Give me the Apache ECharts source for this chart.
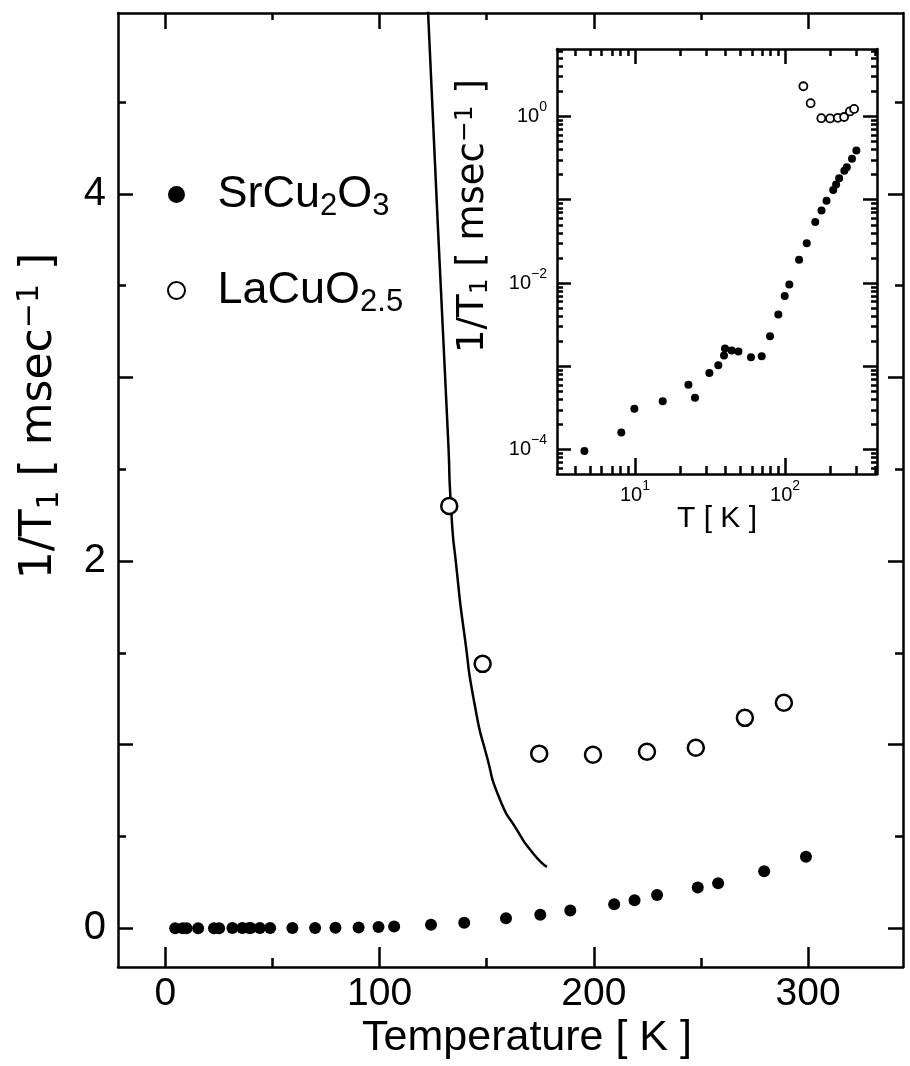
<!DOCTYPE html>
<html><head><meta charset="utf-8">
<script src="https://cdn.jsdelivr.net/npm/echarts@6/dist/echarts.min.js"></script>
<style>html,body{margin:0;padding:0;background:#fff}#c{width:910px;height:1066px}</style>
</head><body><div id="c"></div>
<script>
// ---- data ----
const srT = [4.6, 8.1, 9.9, 15.3, 22.7, 25.1, 31.3, 35.9, 39.2, 39.8, 44.1, 48.9, 59.3, 69.9, 79.4, 90.2, 99.5, 106.8,
             124, 139.5, 159, 175, 189, 209.5, 219, 229.5, 248.5, 258, 279.5, 299];
const srV = [9.6e-5, 1.6e-4, 3.1e-4, 3.8e-4, 6.0e-4, 4.2e-4, 8.3e-4, 1.03e-3, 1.35e-3, 1.63e-3, 1.55e-3, 1.5e-3, 1.28e-3, 1.32e-3, 2.3e-3, 4.2e-3, 7.0e-3, 9.6e-3,
             0.019, 0.03, 0.054, 0.074, 0.097, 0.131, 0.152, 0.181, 0.222, 0.245, 0.31, 0.39];
const laT = [132.5, 148.1, 174.5, 199.6, 224.8, 247.6, 270.5, 288.7];
const laV = [2.30, 1.44, 0.951, 0.945, 0.961, 0.983, 1.146, 1.228];
const fitT = [122.0, 127.3, 132.0, 133.3, 136.1, 139.8, 144.5, 150.1, 156.2, 164.1, 171.5, 178.1];
const fitV = [5.15, 3.80, 2.66, 2.30, 1.94, 1.58, 1.21, 0.934, 0.70, 0.536, 0.41, 0.334];

// ---- ticks ----
const mainXMajor = [0, 100, 200, 300];
const mainXMinor = [50, 150, 250];
const mainYMajor = [0, 1, 2, 3, 4];
const mainYLabels = [0, 2, 4];
const mainYMinor = [0.5, 1.5, 2.5, 3.5, 4.5];
const insetXMajor = [10, 100];
const insetXMinor = [4, 5, 6, 7, 8, 9, 20, 30, 40, 50, 60, 70, 80, 90, 200, 300, 400];
const insetYMajor = [1e-4, 1e-3, 1e-2, 1e-1, 1];
const insetYLabels = [1e-4, 1e-2, 1];
const insetYMinor = [6e-5, 7e-5, 8e-5, 9e-5, 2e-4, 3e-4, 4e-4, 5e-4, 6e-4, 7e-4, 8e-4, 9e-4,
                     2e-3, 3e-3, 4e-3, 5e-3, 6e-3, 7e-3, 8e-3, 9e-3, 2e-2, 3e-2, 4e-2, 5e-2, 6e-2, 7e-2, 8e-2, 9e-2,
                     0.2, 0.3, 0.4, 0.5, 0.6, 0.7, 0.8, 0.9, 2, 3, 4, 5, 6];

const FF = '"Liberation Sans", Arial, Helvetica, sans-serif';
const FW = '"DejaVu Sans", "Liberation Sans", sans-serif';
const LW = 2.5;
const lg = Math.log10;

function axis(gridIndex, position, min, max, ticks, tickLen, showLine, label) {
  return {
    type: 'value', gridIndex, position, min, max,
    axisLine: { show: showLine, onZero: false, lineStyle: { color: '#000', width: LW } },
    axisTick: { show: true, inside: true, length: tickLen, customValues: ticks, lineStyle: { color: '#000', width: LW } },
    axisLabel: label ? Object.assign({ show: true, color: '#000', fontFamily: FF }, label) : { show: false },
    splitLine: { show: false }, minorTick: { show: false }
  };
}

const XMIN = -22.1, XMAX = 344.3, YMIN = -0.211, YMAX = 4.985;
const IXMIN = 0.48, IXMAX = 2.613, IYMIN = -4.293, IYMAX = 0.809;

const expFmt = v => { const e = Math.round(v); return '10{p|' + (e < 0 ? '\u2212' + (-e) : e) + '}'; };
const insetLabelRich = {
  p: { fontSize: 14, fontFamily: FF, color: '#000', lineHeight: 22, padding: [0, 0, 18, 0] }
};

const xAxes = [
  axis(0, 'bottom', XMIN, XMAX, mainXMajor, 20, true,
       { customValues: mainXMajor, fontSize: 39, margin: 8 }),
  axis(0, 'bottom', XMIN, XMAX, mainXMinor, 9, false, null),
  axis(0, 'top', XMIN, XMAX, mainXMajor, 16, true, null),
  axis(0, 'top', XMIN, XMAX, mainXMinor, 7, false, null),
  axis(1, 'bottom', IXMIN, IXMAX, insetXMajor.map(lg), 16, true,
       { customValues: insetXMajor.map(lg), fontSize: 20, lineHeight: 22, margin: 10, formatter: expFmt, rich: insetLabelRich }),
  axis(1, 'bottom', IXMIN, IXMAX, insetXMinor.map(lg), 8, false, null),
  axis(1, 'top', IXMIN, IXMAX, insetXMajor.map(lg), 15, true, null),
  axis(1, 'top', IXMIN, IXMAX, insetXMinor.map(lg), 7, false, null)
];
const yAxes = [
  axis(0, 'left', YMIN, YMAX, mainYMajor, 15, true,
       { customValues: mainYLabels, fontSize: 40, margin: 12 }),
  axis(0, 'left', YMIN, YMAX, mainYMinor, 8, false, null),
  axis(0, 'right', YMIN, YMAX, mainYMajor, 15, true, null),
  axis(0, 'right', YMIN, YMAX, mainYMinor, 8, false, null),
  axis(1, 'left', IYMIN, IYMAX, insetYMajor.map(lg), 14, true,
       { customValues: insetYLabels.map(lg), fontSize: 20, lineHeight: 22, margin: 10, formatter: expFmt, rich: insetLabelRich }),
  axis(1, 'left', IYMIN, IYMAX, insetYMinor.map(lg), 6, false, null),
  axis(1, 'right', IYMIN, IYMAX, insetYMajor.map(lg), 14, true, null),
  axis(1, 'right', IYMIN, IYMAX, insetYMinor.map(lg), 6, false, null)
];

const zip = (a, b) => a.map((x, i) => [x, b[i]]);
const zipLog = (a, b) => a.map((x, i) => [lg(x), lg(b[i])]);

const openStyle = (bw) => ({ color: '#fff', borderColor: '#000', borderWidth: bw, opacity: 1 });
const fillStyle = { color: '#000', opacity: 1 };

const option = {
  animation: false,
  backgroundColor: '#fff',
  grid: [
    { left: 118, top: 13, width: 785, height: 954, outerBoundsMode: 'none', containLabel: false },
    { left: 557, top: 49, width: 320, height: 425, outerBoundsMode: 'none', containLabel: false,
      show: true, backgroundColor: '#fff', borderWidth: 0 }
  ],
  xAxis: xAxes,
  yAxis: yAxes,
  legend: {
    orient: 'vertical', left: 162, top: 162, itemWidth: 72, itemHeight: 17, itemGap: 41,
    data: ['SrCu2O3', 'LaCuO2.5'],
    formatter: n => n === 'SrCu2O3' ? 'SrCu{s|2}O{s|3}' : 'LaCuO{s|2.5}',
    textStyle: {
      fontSize: 45, fontFamily: FF, color: '#000', lineHeight: 50,
      rich: { s: { fontSize: 31, fontFamily: FF, color: '#000', lineHeight: 50, padding: [24, 0, 0, 0] } }
    },
    selectedMode: false
  },
  series: [
    { name: 'SrCu2O3', type: 'scatter', xAxisIndex: 0, yAxisIndex: 0, symbol: 'circle', symbolSize: 12,
      itemStyle: fillStyle, data: zip(srT, srV), z: 3 },
    { name: 'LaCuO2.5', type: 'scatter', xAxisIndex: 0, yAxisIndex: 0, symbol: 'circle', symbolSize: 16,
      itemStyle: openStyle(2.5), data: zip(laT, laV), z: 3 },
    { name: 'fit', type: 'line', xAxisIndex: 0, yAxisIndex: 0, showSymbol: false, smooth: 0.7,
      lineStyle: { color: '#000', width: 2.5 }, data: zip(fitT, fitV), clip: true, z: 2 },
    { name: 'SrCu2O3', type: 'scatter', xAxisIndex: 4, yAxisIndex: 4, symbol: 'circle', symbolSize: 8,
      itemStyle: fillStyle, data: zipLog(srT, srV), z: 3 },
    { name: 'LaCuO2.5', type: 'scatter', xAxisIndex: 4, yAxisIndex: 4, symbol: 'circle', symbolSize: 8,
      itemStyle: openStyle(1.8), data: zipLog(laT, laV), z: 3 }
  ],
  graphic: [
    { type: 'text', x: 40, y: 416, rotation: Math.PI / 2,
      style: { text: '1/T{b|1} [ msec{p|\u22121} ]', fontSize: 44, fontFamily: FW, fill: '#000',
        align: 'center', verticalAlign: 'middle', lineHeight: 50,
        rich: { b: { fontSize: 30, fontFamily: FW, fill: '#000', lineHeight: 50, padding: [20, 0, 0, 0] },
                p: { fontSize: 30, fontFamily: FW, fill: '#000', lineHeight: 50, padding: [0, 0, 20, 0] } } } },
    { type: 'text', x: 527, y: 1038,
      style: { text: 'Temperature [ K ]', fontSize: 43, fontFamily: FF, fill: '#000', align: 'center', verticalAlign: 'middle' } },
    { type: 'text', x: 473, y: 216, rotation: Math.PI / 2,
      style: { text: '1/T{b|1} [ msec{p|\u22121} ]', fontSize: 37, fontFamily: FW, fill: '#000',
        align: 'center', verticalAlign: 'middle', lineHeight: 40,
        rich: { b: { fontSize: 25, fontFamily: FW, fill: '#000', lineHeight: 40, padding: [15, 0, 0, 0] },
                p: { fontSize: 25, fontFamily: FW, fill: '#000', lineHeight: 40, padding: [0, 0, 15, 0] } } } },
    { type: 'text', x: 717, y: 519,
      style: { text: 'T [ K ]', fontSize: 30, fontFamily: FF, fill: '#000', align: 'center', verticalAlign: 'middle' } }
  ]
};

const chart = echarts.init(document.getElementById('c'), null, { renderer: 'canvas' });
chart.setOption(option);
</script>
</body></html>
